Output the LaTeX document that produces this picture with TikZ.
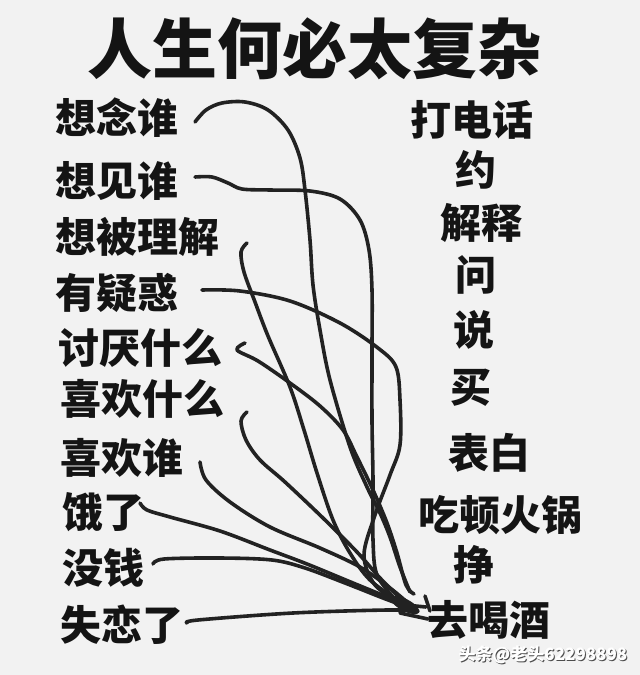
\documentclass[tikz,border=0pt]{standalone}
\usepackage{fontspec}
\newfontfamily\cjk{Noto Sans CJK SC}
\definecolor{bg}{HTML}{F2F2F2}
\definecolor{ink}{HTML}{141414}
\definecolor{ink2}{HTML}{222222}
\tikzset{
  lbl/.style={font=\cjk\bfseries\fontsize{41}{41}\selectfont, inner sep=0pt, text=ink, anchor=west},
  ttl/.style={font=\cjk\bfseries\fontsize{65}{65}\selectfont, inner sep=0pt, text=ink},
  wire/.style={draw=ink2, line width=3.6pt, line cap=round, line join=round},
  wm/.style={font=\cjk\bfseries\fontsize{17}{17}\selectfont, inner sep=0pt},
}
\begin{document}
\begin{tikzpicture}[x=1pt,y=-1pt]
\useasboundingbox (0,0) rectangle (640,675);
\fill[bg] (0,0) rectangle (640,675);
% title
\node[ttl] (title) at (315,49) {人生何必太复杂};
% left column
\node[lbl] (l1) at (55,118) {想念谁};
\node[lbl] (l2) at (55,181) {想见谁};
\node[lbl] (l3) at (55,237) {想被理解};
\node[lbl] (l4) at (55,293) {有疑惑};
\node[lbl] (l5) at (58,348) {讨厌什么};
\node[lbl] (l6) at (60,399) {喜欢什么};
\node[lbl] (l7) at (60,458) {喜欢谁};
\node[lbl] (l8) at (62,512) {饿了};
\node[lbl] (l9) at (62,568) {没钱};
\node[lbl] (l10) at (60,625) {失恋了};
% right column
\node[lbl] (r1) at (410,120) {打电话};
\node[lbl] (r2) at (455,170) {约};
\node[lbl] (r3) at (440,223) {解释};
\node[lbl] (r4) at (455,275) {问};
\node[lbl] (r5) at (453,330) {说};
\node[lbl] (r6) at (450,388) {买};
\node[lbl] (r7) at (448,453) {表白};
\node[lbl] (r8) at (418,515) {吃顿火锅};
\node[lbl] (r9) at (453,565) {挣};
\node[lbl] (r10) at (427,620) {去喝酒};
% connector ends
\coordinate (s1) at (195,122);
\coordinate (s2) at (195,177);
\coordinate (s3) at (247,243);
\coordinate (s4) at (202,290);
\coordinate (s5) at (245,343);
\coordinate (s6) at (247,412);
\coordinate (s7) at (200,462);
\coordinate (s8) at (140,503);
\coordinate (s9) at (153,564);
\coordinate (s10) at (187,623);
\coordinate (e1) at (410,592);
\coordinate (e2) at (396,600);
\coordinate (e3) at (400,602);
\coordinate (e4) at (402,604);
\coordinate (e5) at (414,594);
\coordinate (e6) at (404,602);
\coordinate (e7) at (408,603);
\coordinate (e8) at (410,607);
\coordinate (e9) at (410,608);
\coordinate (e10) at (418,611);
\coordinate (hub) at (405,605);
% connectors
\draw[wire] plot[smooth, tension=0.55] coordinates {(s1) (206,110) (222,103) (245,102) (268,110) (288,130) (300,158) (305,190) (310,240) (313,285) (320,330) (330,380) (350,447) (367,487) (380,513) (390,537) (400,567) (e1)};
\draw[wire] plot[smooth, tension=0.55] coordinates {(s2) (212,177) (228,183) (242,189) (270,190) (310,191) (340,199) (360,220) (369,250) (372,290) (372,350) (372,420) (373,480) (373,540) (377,575) (e2)};
\draw[wire] plot[smooth, tension=0.55] coordinates {(s3) (241,252) (244,272) (255,302) (268,336) (290,387) (304,430) (317,473) (333,520) (350,553) (370,580) (e3)};
\draw[wire] plot[smooth, tension=0.55] coordinates {(s4) (240,291) (290,301) (340,323) (378,348) (396,367) (400,400) (400,445) (390,475) (375,515) (364,555) (375,585) (e4)};
\draw[wire] plot[smooth, tension=0.55] coordinates {(s5) (237,350) (258,361) (290,383) (320,406) (343,430) (357,457) (373,490) (387,523) (397,553) (406,585) (e5)};
\draw[wire] plot[smooth, tension=0.55] coordinates {(s6) (241,421) (246,440) (260,460) (285,482) (323,518) (357,552) (380,578) (e6)};
\draw[wire] plot[smooth, tension=0.55] coordinates {(s7) (206,480) (230,502) (270,527) (320,548) (360,567) (390,588) (e7)};
\draw[wire] plot[smooth, tension=0.55] coordinates {(s8) (147,510) (170,517) (220,531) (270,550) (307,564) (353,583) (387,597) (e8)};
\draw[wire] plot[smooth, tension=0.55] coordinates {(s9) (164,559) (220,558) (272,560) (305,568) (345,583) (383,598) (e9)};
\draw[wire] plot[smooth, tension=0.55] coordinates {(s10) (198,620) (293,613) (387,610) (e10)};
% knot of ink where the lines meet
\fill[ink2, rotate around={-28:(hub)}] (hub) ellipse (16 and 6);
\draw[wire] (hub) -- (426,607);
\draw[wire] (425,596) -- (430,611);
\draw[wire] (400,613) -- (428,619);
% watermark
\node[wm, text=black!70] (wmshadow) at (544,656) {头条@老头62298898};
\node[wm, text=white] (wmtext) at (543,655) {头条@老头62298898};
\end{tikzpicture}
\end{document}
